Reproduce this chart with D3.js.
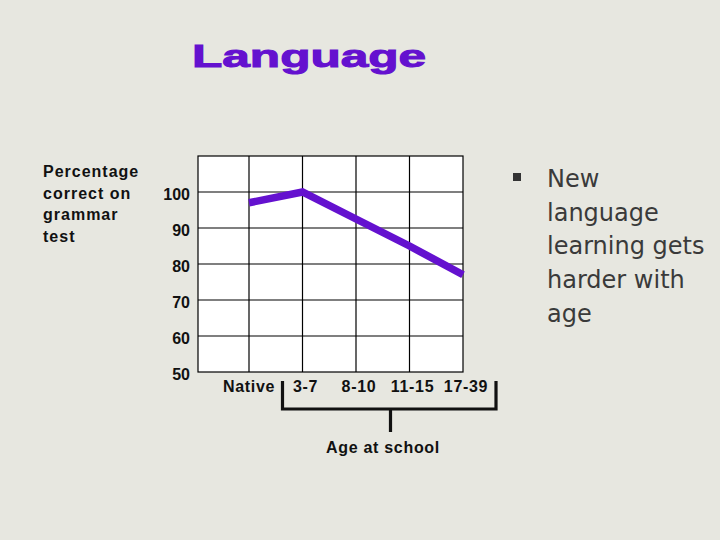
<!DOCTYPE html>
<html><head><meta charset="utf-8">
<script src="https://cdn.jsdelivr.net/npm/d3@7"></script>
<style>
html,body{margin:0;padding:0;background:#e7e7e0;}
svg{display:block;}
</style></head>
<body>
<script>
const categories = ["Native", "3-7", "8-10", "11-15", "17-39"];
const values = [97, 100, 92.5, 85, 77];
const yTicks = [100, 90, 80, 70, 60, 50];
const yTitleLines = ["Percentage", "correct on", "grammar", "test"];
const bulletLines = ["New", "language", "learning gets", "harder with", "age"];
const titleText = "Language";
const xTitle = "Age at school";

const W = 720, H = 540;
const svg = d3.select("body").append("svg").attr("width", W).attr("height", H);

svg.append("rect").attr("width", W).attr("height", H).attr("fill", "#e7e7e0");

const plotLeft = 198, plotRight = 463, plotTop = 156, plotBottom = 372;
const x = d3.scalePoint().domain(categories).range([249, plotRight]);
const y = d3.scaleLinear().domain([50, 110]).range([plotBottom, plotTop]);

svg.append("rect").attr("x", plotLeft).attr("y", plotTop)
  .attr("width", plotRight - plotLeft).attr("height", plotBottom - plotTop)
  .attr("fill", "#ffffff").attr("stroke", "#000").attr("stroke-width", 1.2);

svg.append("g").selectAll("line").data(yTicks.filter(d => d > 50)).join("line")
  .attr("x1", plotLeft).attr("x2", plotRight)
  .attr("y1", d => y(d)).attr("y2", d => y(d))
  .attr("stroke", "#000").attr("stroke-width", 1.2);

svg.append("g").selectAll("line").data(categories.slice(0, -1)).join("line")
  .attr("y1", plotTop).attr("y2", plotBottom)
  .attr("x1", d => x(d)).attr("x2", d => x(d))
  .attr("stroke", "#000").attr("stroke-width", 1.2);

const line = d3.line().x((d, i) => x(categories[i])).y(d => y(d));
svg.append("path").datum(values).attr("d", line)
  .attr("fill", "none").attr("stroke", "#6411cf").attr("stroke-width", 7.5)
  .attr("stroke-linejoin", "miter");

svg.append("g").selectAll("text").data(yTicks).join("text")
  .attr("x", 190).attr("y", d => y(d) + 8)
  .attr("text-anchor", "end")
  .attr("font-family", "Liberation Sans, Arial, sans-serif")
  .attr("font-weight", "bold").attr("font-size", 16)
  .attr("fill", "#111")
  .text(d => d);

svg.append("g").selectAll("text").data(yTitleLines).join("text")
  .attr("x", 43).attr("y", (d, i) => 177 + i * 21.5)
  .attr("font-family", "Liberation Sans, Arial, sans-serif")
  .attr("font-weight", "bold").attr("font-size", 16)
  .attr("letter-spacing", 1)
  .attr("fill", "#111")
  .text(d => d);

svg.append("g").selectAll("text").data(categories).join("text")
  .attr("x", d => x(d) + (d === "Native" ? 0 : 3)).attr("y", 392)
  .attr("text-anchor", "middle")
  .attr("font-family", "Liberation Sans, Arial, sans-serif")
  .attr("font-weight", "bold").attr("font-size", 16)
  .attr("letter-spacing", 0.7)
  .attr("fill", "#111")
  .text(d => d);

const bx1 = 282.5, bx2 = 496, byTop = 381, byBot = 409, stemX = 390.5, stemBot = 432;
svg.append("path")
  .attr("d", `M${bx1},${byTop}V${byBot}H${bx2}V${byTop}M${stemX},${byBot}V${stemBot}`)
  .attr("fill", "none").attr("stroke", "#111").attr("stroke-width", 3.2);

svg.append("text").attr("x", 383).attr("y", 453)
  .attr("text-anchor", "middle")
  .attr("font-family", "Liberation Sans, Arial, sans-serif")
  .attr("font-weight", "bold").attr("font-size", 16)
  .attr("letter-spacing", 0.7)
  .attr("fill", "#111").text(xTitle);

svg.append("text").attr("x", 0).attr("y", 0)
  .attr("transform", "translate(192,67) scale(1.6,1)")
  .attr("font-family", "Liberation Sans, Arial, sans-serif")
  .attr("font-weight", "bold").attr("font-size", 31)
  .attr("fill", "#6411cf").attr("stroke", "#6411cf").attr("stroke-width", 1)
  .text(titleText);

svg.append("rect").attr("x", 513).attr("y", 173).attr("width", 8).attr("height", 8).attr("fill", "#333");
svg.append("g").selectAll("text").data(bulletLines).join("text")
  .attr("x", 547).attr("y", (d, i) => 187 + i * 33.7)
  .attr("font-family", "DejaVu Sans, sans-serif")
  .attr("font-size", 24)
  .attr("fill", "#3a3a3a")
  .text(d => d);
</script>
</body></html>
